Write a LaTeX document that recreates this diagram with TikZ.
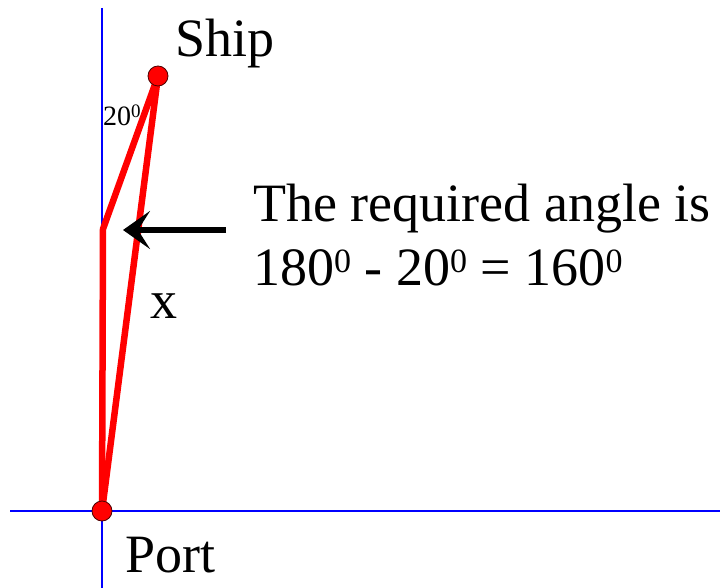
\documentclass[tikz,border=0pt]{standalone}
\usepackage{fontspec}
\setmainfont{Liberation Serif}
\usetikzlibrary{arrows.meta}
\newcommand{\bigsupz}{\raisebox{13pt}{\fontsize{34}{34}\selectfont 0}}
\newcommand{\smallsupz}{\raisebox{8pt}{\fontsize{19}{19}\selectfont 0}}
\begin{document}
\begin{tikzpicture}[x=1pt,y=-1pt,
  axis/.style={blue, line width=2.4pt},
  redline/.style={red, line width=6.5pt, line join=round},
  dot/.style={circle, fill=red, draw=black!70!red, line width=0.8pt, minimum size=20pt, inner sep=0pt},
  bigtxt/.style={font=\fontsize{54}{63}\selectfont, inner sep=0pt, anchor=base west},
  smalltxt/.style={font=\fontsize{28}{32}\selectfont, inner sep=0pt, anchor=base west},
  pointer/.style={black, line width=5.5pt, -{Stealth[length=27pt,width=38pt,inset=12pt]}}
]
\useasboundingbox (0,0) rectangle (720,588);
% axes
\coordinate (vtop) at (102,8);
\coordinate (vbot) at (102,588);
\coordinate (hl) at (10,511);
\coordinate (hr) at (720,511);
\draw[axis] (vtop) -- (vbot);
\draw[axis] (hl) -- (hr);
% points
\coordinate (port) at (102,511);
\coordinate (ship) at (158,76);
\coordinate (bend) at (103,229);
\draw[redline] (port) -- (bend) -- (ship);
\draw[redline] (port) -- (ship);
\node[dot] (shipdot) at (ship) {};
\node[dot] (portdot) at (port) {};
% labels
\node[bigtxt] (shiplbl) at (175,57) {Ship};
\node[bigtxt] (portlbl) at (125,572) {Port};
\node[bigtxt] (xlbl) at (150,318) {x};
\node[smalltxt] (anglbl) at (103,126) {20\smallsupz};
\node[bigtxt] (line1) at (253,222) {The required angle is};
\node[bigtxt] (line2) at (253,285) {180\bigsupz{} - 20\bigsupz{} = 160\bigsupz};
% arrow
\coordinate (tail) at (226,230);
\coordinate (tip) at (123,230);
\draw[pointer] (tail) -- (tip);
\end{tikzpicture}
\end{document}
